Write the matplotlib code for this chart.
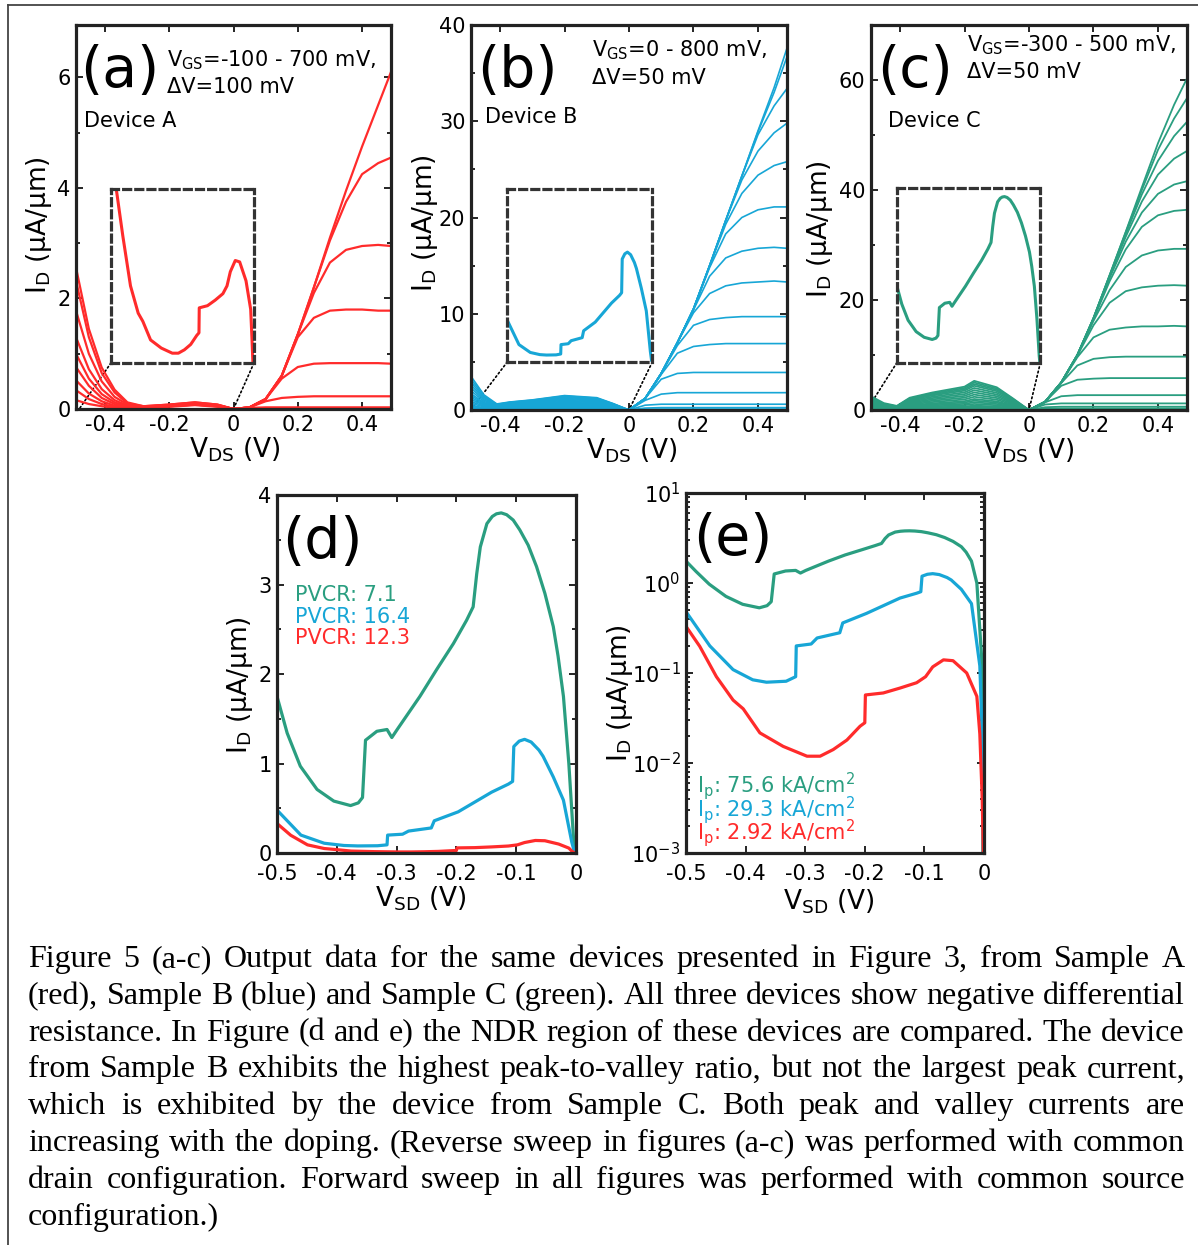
import matplotlib
matplotlib.use("Agg")
import matplotlib.pyplot as plt
from matplotlib.patches import ConnectionPatch
from matplotlib.lines import Line2D
from matplotlib.ticker import MultipleLocator
import numpy as np

plt.rcParams['font.family'] = ['DejaVu Sans']
plt.rcParams['mathtext.default'] = 'regular'

RED = '#ff2b2b'
BLUE = '#17a6d6'
GREEN = '#2a9e80'

# %% panel (a): device A output curves, VGS = -100 ... 700 mV
a_vneg = [-0.49, -0.45, -0.41, -0.37, -0.33, -0.28, -0.2, -0.12, -0.05, 0.0]
a_vpos = [0.05, 0.1, 0.15, 0.2, 0.25, 0.3, 0.35, 0.4, 0.45, 0.49]
a_neg = [
    [2.56, 1.45, 0.75, 0.35, 0.12, 0.05, 0.08, 0.12, 0.08, 0.0],
    [2.32, 1.3, 0.65, 0.3, 0.1, 0.05, 0.08, 0.12, 0.08, 0.0],
    [1.78, 1.0, 0.5, 0.22, 0.08, 0.04, 0.07, 0.11, 0.07, 0.0],
    [1.3, 0.72, 0.36, 0.16, 0.06, 0.04, 0.07, 0.1, 0.07, 0.0],
    [1.0, 0.55, 0.27, 0.12, 0.05, 0.03, 0.06, 0.1, 0.06, 0.0],
    [0.76, 0.42, 0.2, 0.09, 0.04, 0.03, 0.06, 0.09, 0.06, 0.0],
    [0.52, 0.28, 0.14, 0.06, 0.03, 0.02, 0.05, 0.08, 0.05, 0.0],
    [0.34, 0.18, 0.09, 0.04, 0.02, 0.02, 0.05, 0.08, 0.05, 0.0],
    [0.16, 0.09, 0.05, 0.02, 0.01, 0.02, 0.04, 0.07, 0.04, 0.0],
]
a_pos = [
    [0.0, 0.001, 0.002, 0.002, 0.003, 0.003, 0.003, 0.003, 0.003, 0.003],
    [0.005, 0.008, 0.01, 0.01, 0.01, 0.01, 0.01, 0.01, 0.01, 0.01],
    [0.02, 0.03, 0.03, 0.03, 0.03, 0.03, 0.03, 0.03, 0.03, 0.03],
    [0.03, 0.14, 0.2, 0.22, 0.23, 0.23, 0.23, 0.23, 0.23, 0.23],
    [0.03, 0.18, 0.55, 0.76, 0.82, 0.83, 0.83, 0.83, 0.83, 0.82],
    [0.03, 0.18, 0.6, 1.3, 1.65, 1.78, 1.8, 1.8, 1.78, 1.78],
    [0.03, 0.18, 0.6, 1.35, 2.1, 2.65, 2.88, 2.95, 2.97, 2.95],
    [0.03, 0.18, 0.6, 1.35, 2.2, 3.05, 3.75, 4.25, 4.45, 4.55],
    [0.03, 0.18, 0.6, 1.35, 2.2, 3.1, 3.95, 4.75, 5.5, 6.1],
]

# %% panel (b): device B, VGS = 0 ... 800 mV
b_vneg = [-0.49, -0.45, -0.41, -0.37, -0.3, -0.2, -0.1, -0.05, 0.0]
b_vpos = [0.05, 0.1, 0.15, 0.2, 0.25, 0.3, 0.35, 0.4, 0.45, 0.49]
b_neg = [
    [3.5, 1.58, 0.63, 0.83, 1.05, 1.5, 1.28, 0.68, 0.0],
    [3.2, 1.44, 0.58, 0.8, 1.02, 1.45, 1.23, 0.65, 0.0],
    [2.9, 1.3, 0.52, 0.77, 0.98, 1.4, 1.19, 0.63, 0.0],
    [2.6, 1.17, 0.47, 0.72, 0.91, 1.3, 1.1, 0.58, 0.0],
    [2.3, 1.03, 0.41, 0.66, 0.84, 1.2, 1.02, 0.54, 0.0],
    [2.0, 0.9, 0.36, 0.6, 0.77, 1.1, 0.94, 0.5, 0.0],
    [1.7, 0.77, 0.31, 0.55, 0.7, 1.0, 0.85, 0.45, 0.0],
    [1.5, 0.68, 0.27, 0.5, 0.63, 0.9, 0.77, 0.4, 0.0],
    [1.3, 0.58, 0.23, 0.44, 0.56, 0.8, 0.68, 0.36, 0.0],
    [1.1, 0.5, 0.2, 0.38, 0.49, 0.7, 0.6, 0.32, 0.0],
    [0.9, 0.4, 0.16, 0.33, 0.42, 0.6, 0.51, 0.27, 0.0],
    [0.7, 0.32, 0.13, 0.28, 0.35, 0.5, 0.43, 0.22, 0.0],
    [0.5, 0.22, 0.09, 0.22, 0.28, 0.4, 0.34, 0.18, 0.0],
    [0.4, 0.18, 0.07, 0.17, 0.21, 0.3, 0.26, 0.14, 0.0],
    [0.3, 0.14, 0.05, 0.14, 0.18, 0.25, 0.21, 0.11, 0.0],
    [0.2, 0.09, 0.04, 0.11, 0.14, 0.2, 0.17, 0.09, 0.0],
    [0.1, 0.05, 0.02, 0.08, 0.1, 0.15, 0.13, 0.07, 0.0],
]
b_pos = [
    [0.0, 0.0, 0.0, 0.0, 0.0, 0.0, 0.0, 0.0, 0.0, 0.0],
    [0.02, 0.03, 0.03, 0.03, 0.03, 0.03, 0.03, 0.03, 0.03, 0.03],
    [0.08, 0.1, 0.1, 0.1, 0.1, 0.1, 0.1, 0.1, 0.1, 0.1],
    [0.2, 0.25, 0.25, 0.25, 0.25, 0.25, 0.25, 0.25, 0.25, 0.25],
    [0.5, 0.6, 0.6, 0.6, 0.6, 0.6, 0.6, 0.6, 0.6, 0.6],
    [1.0, 1.65, 1.8, 1.8, 1.8, 1.8, 1.8, 1.8, 1.8, 1.8],
    [1.2, 3.2, 3.8, 3.9, 3.9, 3.9, 3.9, 3.9, 3.9, 3.9],
    [1.2, 3.7, 5.9, 6.6, 6.8, 6.9, 6.9, 6.9, 6.9, 6.9],
    [1.2, 3.8, 6.7, 8.8, 9.4, 9.6, 9.7, 9.7, 9.7, 9.7],
    [1.2, 3.8, 7.0, 10.1, 12.1, 12.9, 13.2, 13.3, 13.4, 13.3],
    [1.2, 3.8, 7.0, 10.4, 13.9, 15.8, 16.5, 16.8, 16.9, 16.8],
    [1.2, 3.8, 7.0, 10.5, 14.8, 18.3, 20.0, 20.8, 21.1, 21.1],
    [1.2, 3.8, 7.0, 10.5, 15.0, 19.3, 22.5, 24.4, 25.4, 25.8],
    [1.2, 3.8, 7.0, 10.5, 15.0, 19.7, 23.9, 26.9, 28.8, 29.8],
    [1.2, 3.8, 7.0, 10.5, 15.0, 19.7, 24.3, 28.6, 31.6, 33.4],
    [1.2, 3.8, 7.0, 10.5, 15.0, 19.7, 24.3, 28.9, 33.0, 36.7],
    [1.2, 3.8, 7.0, 10.5, 15.0, 19.7, 24.3, 29.0, 33.5, 37.6],
]

# %% panel (c): device C, VGS = -300 ... 500 mV
c_vneg = [-0.49, -0.45, -0.41, -0.37, -0.3, -0.2, -0.17, -0.1, -0.05, 0.0]
c_vpos = [0.05, 0.1, 0.15, 0.2, 0.25, 0.3, 0.35, 0.4, 0.45, 0.49]
c_neg = [
    [2.5, 1.25, 0.75, 2.23, 3.18, 4.24, 5.3, 4.13, 2.12, 0.0],
    [2.2, 1.1, 0.66, 2.1, 3.0, 4.0, 5.0, 3.9, 2.0, 0.0],
    [2.0, 1.0, 0.6, 1.97, 2.82, 3.76, 4.7, 3.67, 1.88, 0.0],
    [1.8, 0.9, 0.54, 1.85, 2.64, 3.52, 4.4, 3.43, 1.76, 0.0],
    [1.6, 0.8, 0.48, 1.68, 2.4, 3.2, 4.0, 3.12, 1.6, 0.0],
    [1.4, 0.7, 0.42, 1.51, 2.16, 2.88, 3.6, 2.81, 1.44, 0.0],
    [1.2, 0.6, 0.36, 1.34, 1.92, 2.56, 3.2, 2.5, 1.28, 0.0],
    [1.1, 0.55, 0.33, 1.18, 1.68, 2.24, 2.8, 2.18, 1.12, 0.0],
    [1.0, 0.5, 0.3, 1.01, 1.44, 1.92, 2.4, 1.87, 0.96, 0.0],
    [0.9, 0.45, 0.27, 0.84, 1.2, 1.6, 2.0, 1.56, 0.8, 0.0],
    [0.8, 0.4, 0.24, 0.71, 1.02, 1.36, 1.7, 1.33, 0.68, 0.0],
    [0.7, 0.35, 0.21, 0.59, 0.84, 1.12, 1.4, 1.09, 0.56, 0.0],
    [0.6, 0.3, 0.18, 0.46, 0.66, 0.88, 1.1, 0.86, 0.44, 0.0],
    [0.5, 0.25, 0.15, 0.34, 0.48, 0.64, 0.8, 0.62, 0.32, 0.0],
    [0.4, 0.2, 0.12, 0.25, 0.36, 0.48, 0.6, 0.47, 0.24, 0.0],
    [0.3, 0.15, 0.09, 0.17, 0.24, 0.32, 0.4, 0.31, 0.16, 0.0],
    [0.2, 0.1, 0.06, 0.13, 0.18, 0.24, 0.3, 0.23, 0.12, 0.0],
]
c_pos = [
    [0.0, 0.0, 0.0, 0.0, 0.0, 0.0, 0.0, 0.0, 0.0, 0.0],
    [0.1, 0.1, 0.1, 0.1, 0.1, 0.1, 0.1, 0.1, 0.1, 0.1],
    [0.25, 0.3, 0.3, 0.3, 0.3, 0.3, 0.3, 0.3, 0.3, 0.3],
    [0.5, 0.6, 0.6, 0.6, 0.6, 0.6, 0.6, 0.6, 0.6, 0.6],
    [1.0, 1.2, 1.2, 1.2, 1.2, 1.2, 1.2, 1.2, 1.2, 1.2],
    [1.4, 2.5, 2.7, 2.7, 2.7, 2.7, 2.7, 2.7, 2.7, 2.7],
    [1.5, 4.4, 5.5, 5.7, 5.8, 5.8, 5.8, 5.8, 5.8, 5.8],
    [1.5, 4.9, 8.1, 9.3, 9.6, 9.7, 9.7, 9.7, 9.7, 9.7],
    [1.5, 5.0, 9.6, 13.2, 14.6, 15.0, 15.2, 15.2, 15.3, 15.2],
    [1.5, 5.0, 9.9, 15.4, 19.5, 21.6, 22.3, 22.6, 22.7, 22.6],
    [1.5, 5.0, 10.0, 16.2, 21.8, 26.0, 28.1, 29.0, 29.3, 29.3],
    [1.5, 5.0, 10.0, 16.5, 23.4, 29.2, 33.3, 35.4, 36.2, 36.4],
    [1.5, 5.0, 10.0, 16.6, 24.0, 30.6, 35.9, 39.3, 41.0, 41.6],
    [1.5, 5.0, 10.0, 16.7, 24.3, 31.5, 37.9, 42.8, 45.7, 47.1],
    [1.5, 5.0, 10.0, 16.7, 24.4, 32.0, 39.2, 45.3, 49.8, 52.4],
    [1.5, 5.0, 10.0, 16.7, 24.5, 32.3, 40.0, 47.3, 53.0, 56.7],
    [1.5, 5.0, 10.0, 16.7, 24.5, 32.4, 40.5, 48.5, 55.5, 60.3],
]

# %% panels (d, e): NDR region, same data on linear and log axes
red_v = [-0.5, -0.477, -0.449, -0.421, -0.404, -0.376, -0.337, -0.297, -0.275, -0.253,
         -0.23, -0.208, -0.2, -0.199, -0.169, -0.141, -0.113, -0.098, -0.086, -0.068,
         -0.052, -0.029, -0.012, -0.007, -0.003, -0.001, 0.0]
red_i = [0.33, 0.198, 0.091, 0.050, 0.040, 0.0216, 0.0153, 0.0119, 0.0119, 0.0141,
         0.018, 0.0256, 0.028, 0.057, 0.060, 0.068, 0.078, 0.091, 0.117, 0.14,
         0.137, 0.10, 0.055, 0.021, 0.004, 0.0009, 0.0]
blue_v = [-0.5, -0.46, -0.421, -0.388, -0.365, -0.332, -0.316, -0.315, -0.29, -0.28,
          -0.242, -0.237, -0.197, -0.141, -0.113, -0.106, -0.104, -0.095, -0.086, -0.075,
          -0.062, -0.055, -0.038, -0.021, -0.007, -0.003, -0.001, 0.0]
blue_i = [0.48, 0.20, 0.109, 0.084, 0.079, 0.081, 0.091, 0.20, 0.21, 0.245,
          0.28, 0.36, 0.46, 0.68, 0.77, 0.80, 1.19, 1.25, 1.27, 1.24,
          1.15, 1.08, 0.85, 0.59, 0.12, 0.02, 0.002, 0.0]
green_v = [-0.5, -0.483, -0.461, -0.433, -0.405, -0.377, -0.364, -0.357, -0.352, -0.333,
           -0.316, -0.308, -0.299, -0.261, -0.233, -0.205, -0.183, -0.172, -0.166, -0.16,
           -0.149, -0.14, -0.133, -0.125, -0.116, -0.105, -0.094, -0.08, -0.066, -0.052,
           -0.038, -0.03, -0.021, -0.012, -0.004, -0.002, 0.0]
green_i = [1.75, 1.34, 0.97, 0.71, 0.58, 0.53, 0.56, 0.62, 1.26, 1.36,
           1.38, 1.29, 1.38, 1.75, 2.05, 2.34, 2.60, 2.75, 3.12, 3.42,
           3.68, 3.76, 3.79, 3.8, 3.78, 3.72, 3.61, 3.44, 3.20, 2.9,
           2.53, 2.2, 1.75, 1.0, 0.15, 0.01, 0.0]

pvcr_labels = ['PVCR: 7.1', 'PVCR: 16.4', 'PVCR: 12.3']
ip_labels = ['I$_p$: 75.6 kA/cm$^2$', 'I$_p$: 29.3 kA/cm$^2$', 'I$_p$: 2.92 kA/cm$^2$']

caption = [
    "Figure 5 (a-c) Output data for the same devices presented in Figure 3, from Sample A",
    "(red), Sample B (blue) and Sample C (green). All three devices show negative differential",
    "resistance. In Figure (d and e) the NDR region of these devices are compared. The device",
    "from Sample B exhibits the highest peak-to-valley ratio, but not the largest peak current,",
    "which is exhibited by the device from Sample C. Both peak and valley currents are",
    "increasing with the doping. (Reverse sweep in figures (a-c) was performed with common",
    "drain configuration. Forward sweep in all figures was performed with common source",
    "configuration.)",
]

# %%
W, H = 1198, 1245
fig = plt.figure(figsize=(W / 100, H / 100), dpi=100)


def px_axes(l, t, r, b):
    return fig.add_axes([l / W, 1 - b / H, (r - l) / W, (b - t) / H])


def style(ax, ymaj, ymin, xpad=4):
    for s in ax.spines.values():
        s.set_linewidth(2.3)
        s.set_color('#222222')
    ax.tick_params(which='both', direction='in', top=True, right=True,
                   labelsize=15, width=1.2, pad=4)
    ax.tick_params(axis='x', pad=xpad)
    ax.tick_params(which='major', length=5)
    ax.tick_params(which='minor', length=3)
    if ymaj is not None:
        ax.yaxis.set_major_locator(MultipleLocator(ymaj))
        ax.yaxis.set_minor_locator(MultipleLocator(ymin))


def labels(ax, xl, yl, xpos, ypos):
    ax.set_xlabel(xl, fontsize=19)
    ax.set_ylabel(yl, fontsize=19)
    ax.xaxis.set_label_coords(*xpos)
    ax.yaxis.set_label_coords(*ypos)


def inset_box(ax, rect, v, i, color, ylim, xlim, p_left):
    ins = ax.inset_axes(rect)
    ins.set_facecolor('none')
    ins.set_xticks([])
    ins.set_yticks([])
    for s in ins.spines.values():
        s.set_linestyle((0, (2.2, 1.6)))
        s.set_linewidth(2.3)
        s.set_color('#333333')
    ins.plot(v, i, color=color, lw=2.2)
    ins.set_xlim(*xlim)
    ins.set_ylim(*ylim)
    for a_xy, d_xy in [((0, 0), p_left), ((1, 0), (0.0, 0.0))]:
        cp = ConnectionPatch(xyA=a_xy, coordsA=ins.transAxes, xyB=d_xy,
                             coordsB=ax.transData, ls=':', lw=1.2, color='k')
        ax.add_artist(cp)
    return ins


ylab = 'I$_D$ (μA/μm)'

# (a)
ax1 = px_axes(76, 25, 391, 409)
for neg, pos in zip(a_neg, a_pos):
    ax1.plot(a_vneg + a_vpos, neg + pos, color=RED, lw=1.6)
ax1.set_xlim(-0.49, 0.49)
ax1.set_ylim(0, 6.95)
ax1.set_xticks([-0.4, -0.2, 0, 0.2, 0.4])
ax1.set_xticklabels(['-0.4', '-0.2', '0', '0.2', '0.4'])
style(ax1, 2, 1)
labels(ax1, 'V$_{DS}$ (V)', ylab, (0.505, -0.07), (-0.07, 0.48))
ins1 = inset_box(ax1, [0.111, 0.12, 0.454, 0.453], red_v, red_i, RED,
                 (0.0066, 0.335), (-0.52, 0.0), (-0.48, 0.0))
ins1.set_yscale('function', functions=(lambda y: np.sqrt(np.clip(y, 0, None)), lambda y: y ** 2))
ins1.set_ylim(0.0066, 0.335)
ins1.set_yticks([])
ins1.minorticks_off()
ax1.text(0.013, 0.878, '(a)', transform=ax1.transAxes, fontsize=41, va='center')
ax1.text(0.289, 0.909, 'V$_{GS}$=-100 - 700 mV,', transform=ax1.transAxes, fontsize=15, va='center')
ax1.text(0.289, 0.839, 'ΔV=100 mV', transform=ax1.transAxes, fontsize=15, va='center')
ax1.text(0.025, 0.75, 'Device A', transform=ax1.transAxes, fontsize=15, va='center')

# (b)
ax2 = px_axes(471, 25, 787, 410)
for neg, pos in zip(b_neg, b_pos):
    ax2.plot(b_vneg + b_vpos, neg + pos, color=BLUE, lw=1.2)
ax2.set_xlim(-0.49, 0.49)
ax2.set_ylim(0, 40)
ax2.set_xticks([-0.4, -0.2, 0, 0.2, 0.4])
ax2.set_xticklabels(['-0.4', '-0.2', '0', '0.2', '0.4'])
style(ax2, 10, 5)
labels(ax2, 'V$_{DS}$ (V)', ylab, (0.51, -0.07), (-0.097, 0.486))
inset_box(ax2, [0.115, 0.125, 0.459, 0.449], blue_v, blue_i, BLUE,
          (0.0, 2.0), (-0.5, 0.0), (-0.484, 0.3))
ax2.text(0.02, 0.878, '(b)', transform=ax2.transAxes, fontsize=41, va='center')
ax2.text(0.384, 0.935, 'V$_{GS}$=0 - 800 mV,', transform=ax2.transAxes, fontsize=15, va='center')
ax2.text(0.384, 0.862, 'ΔV=50 mV', transform=ax2.transAxes, fontsize=15, va='center')
ax2.text(0.045, 0.761, 'Device B', transform=ax2.transAxes, fontsize=15, va='center')

# (c)
ax3 = px_axes(871, 25, 1187, 410)
for neg, pos in zip(c_neg, c_pos):
    ax3.plot(c_vneg + c_vpos, neg + pos, color=GREEN, lw=1.3)
ax3.set_xlim(-0.49, 0.49)
ax3.set_ylim(0, 70)
ax3.set_xticks([-0.4, -0.2, 0, 0.2, 0.4])
ax3.set_xticklabels(['-0.4', '-0.2', '0', '0.2', '0.4'])
style(ax3, 20, 10)
labels(ax3, 'V$_{DS}$ (V)', ylab, (0.50, -0.07), (-0.113, 0.47))
inset_box(ax3, [0.082, 0.123, 0.454, 0.454], green_v, green_i, GREEN,
          (0.0, 4.0), (-0.5, 0.0), (-0.49, 1.2))
ax3.text(0.02, 0.878, '(c)', transform=ax3.transAxes, fontsize=41, va='center')
ax3.text(0.305, 0.948, 'V$_{GS}$=-300 - 500 mV,', transform=ax3.transAxes, fontsize=15, va='center')
ax3.text(0.305, 0.878, 'ΔV=50 mV', transform=ax3.transAxes, fontsize=15, va='center')
ax3.text(0.055, 0.75, 'Device C', transform=ax3.transAxes, fontsize=15, va='center')

# (d)
ax4 = px_axes(277, 495, 576, 853)
ax4.plot(green_v, green_i, color=GREEN, lw=2.3)
ax4.plot(blue_v, blue_i, color=BLUE, lw=2.3)
ax4.plot(red_v, red_i, color=RED, lw=2.3)
ax4.set_xlim(-0.5, 0)
ax4.set_ylim(0, 4)
ax4.set_xticks([-0.5, -0.4, -0.3, -0.2, -0.1, 0])
ax4.set_xticklabels(['-0.5', '-0.4', '-0.3', '-0.2', '-0.1', '0'])
style(ax4, 1, 0.5, xpad=8)
labels(ax4, 'V$_{SD}$ (V)', ylab, (0.48, -0.088), (-0.073, 0.47))
ax4.text(0.018, 0.866, '(d)', transform=ax4.transAxes, fontsize=41, va='center')
for lab, col, yy in zip(pvcr_labels, [GREEN, BLUE, RED], [0.721, 0.660, 0.601]):
    ax4.text(0.061, yy, lab, color=col, transform=ax4.transAxes, fontsize=15, va='center')

# (e)
ax5 = px_axes(686, 493, 984, 853)
ax5.plot(green_v, green_i, color=GREEN, lw=2.3)
ax5.plot(blue_v, blue_i, color=BLUE, lw=2.3)
ax5.plot(red_v, red_i, color=RED, lw=2.3)
ax5.set_yscale('log')
ax5.set_xlim(-0.5, 0)
ax5.set_ylim(1e-3, 1e1)
ax5.set_xticks([-0.5, -0.4, -0.3, -0.2, -0.1, 0])
ax5.set_xticklabels(['-0.5', '-0.4', '-0.3', '-0.2', '-0.1', '0'])
style(ax5, None, None, xpad=8)
labels(ax5, 'V$_{SD}$ (V)', ylab, (0.48, -0.095), (-0.171, 0.445))
ax5.text(0.023, 0.870, '(e)', transform=ax5.transAxes, fontsize=41, va='center')
for lab, col, yy in zip(ip_labels, [GREEN, BLUE, RED], [0.185, 0.12, 0.056]):
    ax5.text(0.037, yy, lab, color=col, transform=ax5.transAxes, fontsize=15, va='center')

# frame around the figure
fig.add_artist(Line2D([8 / W, 8 / W], [0, 1 - 5 / H], transform=fig.transFigure,
                      color='#444444', lw=1.3))
fig.add_artist(Line2D([8 / W, 1], [1 - 5 / H, 1 - 5 / H], transform=fig.transFigure,
                      color='#444444', lw=1.3))

# justified caption
CAP_FS = 23
renderer = fig.canvas.get_renderer()
cap_l, cap_r = 28, 1185
base0, step = 967, 36.8
for n, line in enumerate(caption):
    words = line.split()
    ts = [fig.text(0, 0, w, fontsize=CAP_FS, family='Liberation Serif', va='baseline')
          for w in words]
    widths = [t.get_window_extent(renderer).width for t in ts]
    if n == len(caption) - 1:
        gap_w = 6
    else:
        gap_w = (cap_r - cap_l - sum(widths)) / (len(words) - 1)
    x = cap_l
    yb = base0 + n * step
    for t, w in zip(ts, widths):
        t.set_position((x / W, 1 - yb / H))
        x += w + gap_w

fig.savefig('out.png', dpi=100)
